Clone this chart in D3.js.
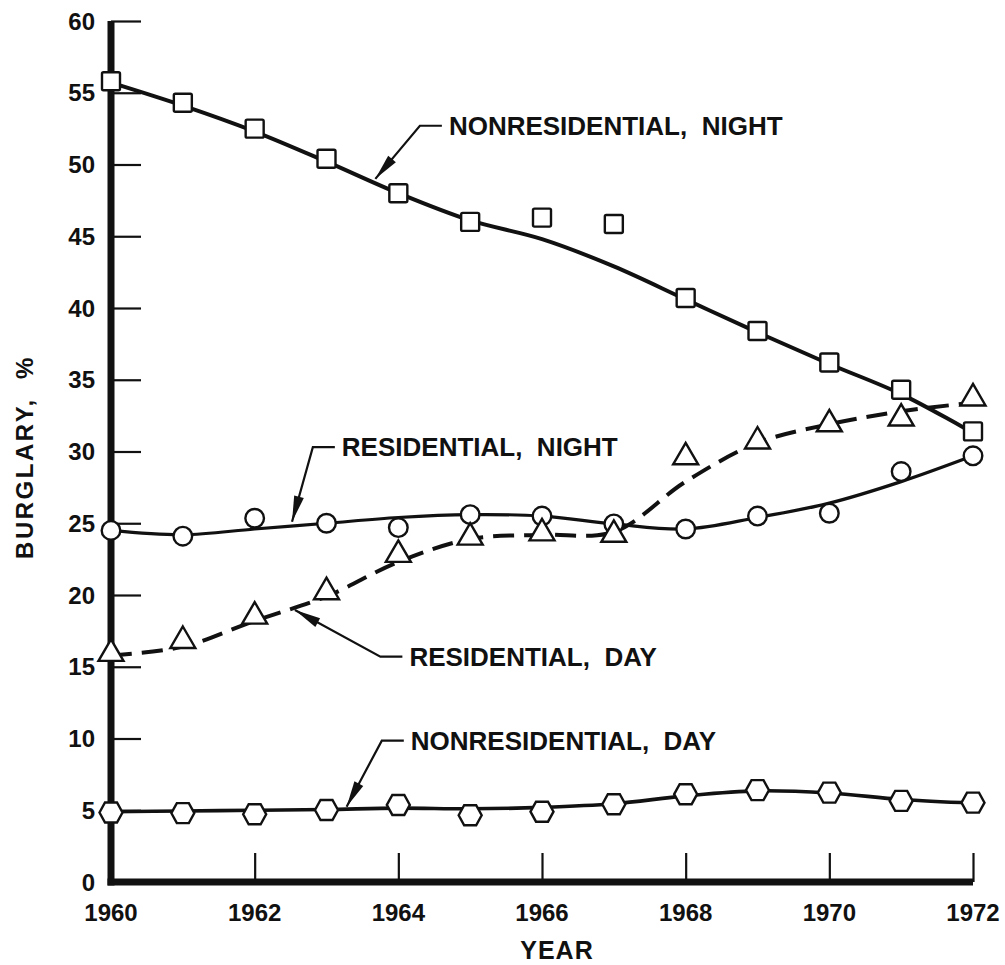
<!DOCTYPE html>
<html>
<head>
<meta charset="utf-8">
<script src="https://cdn.jsdelivr.net/npm/d3@7"></script>
<style>
  html, body { margin: 0; padding: 0; background: #fff; }
  svg { display: block; }
  text { font-family: "Liberation Sans", Arial, Helvetica, sans-serif; font-weight: bold; fill: #111; }
</style>
</head>
<body>
<svg id="chart" width="1005" height="965"></svg>
<script>
// ---- Data ----
const years = [1960, 1961, 1962, 1963, 1964, 1965, 1966, 1967, 1968, 1969, 1970, 1971, 1972];

// Nonresidential, night (squares) – observed points and smoothed curve
const nonresNightPts = [55.8, 54.3, 52.5, 50.4, 48.0, 46.0, 46.3, 45.85, 40.7, 38.4, 36.2, 34.3, 31.4];
const nonresNightFit = [55.7, 54.1, 52.3, 50.2, 48.0, 46.1, 44.8, 42.9, 40.6, 38.3, 36.1, 34.0, 31.3];

// Residential, night (circles)
const resNightPts = [24.5, 24.1, 25.35, 25.0, 24.7, 25.6, 25.5, 24.95, 24.6, 25.5, 25.7, 28.6, 29.7];
const resNightFit = [24.5, 24.2, 24.6, 25.0, 25.4, 25.6, 25.5, 24.95, 24.6, 25.4, 26.4, 27.9, 29.7];

// Residential, day (triangles, dashed curve)
const resDayPts = [16.0, 16.9, 18.6, 20.3, 22.9, 24.1, 24.4, 24.3, 29.7, 30.8, 32.0, 32.4, 33.8];
const resDayFit = [15.8, 16.4, 18.2, 19.9, 22.3, 23.9, 24.2, 24.4, 27.9, 30.6, 31.9, 32.8, 33.4];

// Nonresidential, day (hexagons)
const nonresDayPts = [4.84, 4.8, 4.72, 5.02, 5.37, 4.65, 4.9, 5.42, 6.12, 6.4, 6.23, 5.65, 5.53];
const nonresDayFit = [4.9, 4.95, 5.0, 5.05, 5.15, 5.1, 5.2, 5.45, 6.0, 6.35, 6.2, 5.75, 5.5];

const yTicks = [5, 10, 15, 20, 25, 30, 35, 40, 45, 50, 55, 60];
const yTickLabels = [0, 5, 10, 15, 20, 25, 30, 35, 40, 45, 50, 55, 60];
const xTicks = [1962, 1964, 1966, 1968, 1970, 1972];
const xTickLabels = [1960, 1962, 1964, 1966, 1968, 1970, 1972];

const xTitle = "YEAR";
const yTitle = "BURGLARY,  %";

// Annotation labels: text, arrow tip (year, value), elbow (year, value)
const annotations = [
  { text: "NONRESIDENTIAL,  NIGHT", tip: [1963.68, 49.0], elbow: [1964.3, 52.7] },
  { text: "RESIDENTIAL,  NIGHT",    tip: [1962.52, 25.1], elbow: [1962.81, 30.3] },
  { text: "RESIDENTIAL,  DAY",      tip: [1962.56, 18.95], elbow: [1963.75, 15.7] },
  { text: "NONRESIDENTIAL,  DAY",   tip: [1963.28, 5.25], elbow: [1963.77, 9.85] }
];

// ---- Drawing ----
const svg = d3.select("#chart");

const x = d3.scaleLinear().domain([1960, 1972]).range([111, 973]);
const y = d3.scaleLinear().domain([0, 60]).range([882, 21]);

// Y axis ticks (inside, pointing right)
const yAxis = d3.axisRight(y).tickValues(yTicks).tickSize(30).tickFormat("");
const gy = svg.append("g").attr("transform", `translate(${x(1960)},0)`).call(yAxis);
gy.select(".domain").remove();
gy.selectAll(".tick line").attr("stroke", "#111").attr("stroke-width", 2.2);

// X axis ticks (inside, pointing up)
const xAxis = d3.axisTop(x).tickValues(xTicks).tickSize(29).tickFormat("");
const gx = svg.append("g").attr("transform", `translate(0,${y(0)})`).call(xAxis);
gx.select(".domain").remove();
gx.selectAll(".tick line").attr("stroke", "#111").attr("stroke-width", 2.2);

// Axis frame lines (thick)
svg.append("line")
  .attr("x1", x(1960)).attr("x2", x(1960))
  .attr("y1", y(60)).attr("y2", y(0) + 3.5)
  .attr("stroke", "#111").attr("stroke-width", 7);
svg.append("line")
  .attr("x1", x(1960) - 3.5).attr("x2", x(1972))
  .attr("y1", y(0)).attr("y2", y(0))
  .attr("stroke", "#111").attr("stroke-width", 7);

// Tick labels
svg.append("g").selectAll("text").data(yTickLabels).join("text")
  .attr("x", 95).attr("y", d => y(d))
  .attr("text-anchor", "end").attr("dominant-baseline", "central")
  .attr("font-size", 24).text(d => d);

svg.append("g").selectAll("text").data(xTickLabels).join("text")
  .attr("x", d => x(d)).attr("y", 912)
  .attr("text-anchor", "middle").attr("dominant-baseline", "central")
  .attr("font-size", 24).text(d => d);

// Axis titles
svg.append("text").attr("x", 557).attr("y", 950)
  .attr("text-anchor", "middle").attr("dominant-baseline", "central")
  .attr("font-size", 25).attr("letter-spacing", 1).text(xTitle);
svg.append("text")
  .attr("transform", `translate(24,457) rotate(-90)`)
  .attr("text-anchor", "middle").attr("dominant-baseline", "central")
  .attr("font-size", 24).attr("letter-spacing", 2.5)
  .style("white-space", "pre").text(yTitle);

// Curves
function curvePath(vals) {
  return d3.line()
    .x((d, i) => x(years[i]))
    .y(d => y(d))
    .curve(d3.curveCatmullRom.alpha(0.5))(vals);
}
svg.append("path").attr("d", curvePath(nonresNightFit))
  .attr("fill", "none").attr("stroke", "#111").attr("stroke-width", 4);
svg.append("path").attr("d", curvePath(resNightFit))
  .attr("fill", "none").attr("stroke", "#111").attr("stroke-width", 3.2);
svg.append("path").attr("d", curvePath(resDayFit))
  .attr("fill", "none").attr("stroke", "#111").attr("stroke-width", 4)
  .attr("stroke-dasharray", "21,10");
svg.append("path").attr("d", curvePath(nonresDayFit))
  .attr("fill", "none").attr("stroke", "#111").attr("stroke-width", 3.6);

// Markers
const mk = svg.append("g");
// squares
mk.append("g").selectAll("rect").data(nonresNightPts).join("rect")
  .attr("x", (d, i) => x(years[i]) - 9).attr("y", d => y(d) - 9)
  .attr("width", 18).attr("height", 18).attr("rx", 1.5)
  .attr("fill", "#fff").attr("stroke", "#111").attr("stroke-width", 2.4);
// circles
mk.append("g").selectAll("circle").data(resNightPts).join("circle")
  .attr("cx", (d, i) => x(years[i])).attr("cy", d => y(d)).attr("r", 9.3)
  .attr("fill", "#fff").attr("stroke", "#111").attr("stroke-width", 2.4);
// triangles
const tri = "M0,-13 L12.5,8.5 L-12.5,8.5 Z";
mk.append("g").selectAll("path").data(resDayPts).join("path")
  .attr("transform", (d, i) => `translate(${x(years[i])},${y(d)})`)
  .attr("d", tri)
  .attr("fill", "#fff").attr("stroke", "#111").attr("stroke-width", 2.4).attr("stroke-linejoin", "miter");
// hexagons
const hex = "M-11.5,0 L-6,-10 L6,-10 L11.5,0 L6,10 L-6,10 Z";
mk.append("g").selectAll("path").data(nonresDayPts).join("path")
  .attr("transform", (d, i) => `translate(${x(years[i])},${y(d)})`)
  .attr("d", hex)
  .attr("fill", "#fff").attr("stroke", "#111").attr("stroke-width", 2.4);

// Annotations with leader lines and arrowheads
const ann = svg.append("g");
annotations.forEach(a => {
  const tx = x(a.tip[0]), ty = y(a.tip[1]);
  const ex = x(a.elbow[0]), ey = y(a.elbow[1]);
  const hx = ex + 22;
  ann.append("polyline")
    .attr("points", `${tx},${ty} ${ex},${ey} ${hx},${ey}`)
    .attr("fill", "none").attr("stroke", "#111").attr("stroke-width", 2.2);
  // arrowhead
  const ang = Math.atan2(ey - ty, ex - tx);
  const L = 26, W = 5;
  const bx = tx + L * Math.cos(ang), by = ty + L * Math.sin(ang);
  const px = -Math.sin(ang) * W, py = Math.cos(ang) * W;
  ann.append("path")
    .attr("d", `M${tx},${ty} L${bx + px},${by + py} L${bx - px},${by - py} Z`)
    .attr("fill", "#111");
  ann.append("text")
    .attr("x", hx + 7).attr("y", ey)
    .attr("dominant-baseline", "central")
    .attr("font-size", 26)
    .style("white-space", "pre")
    .text(a.text);
});
</script>
</body>
</html>
